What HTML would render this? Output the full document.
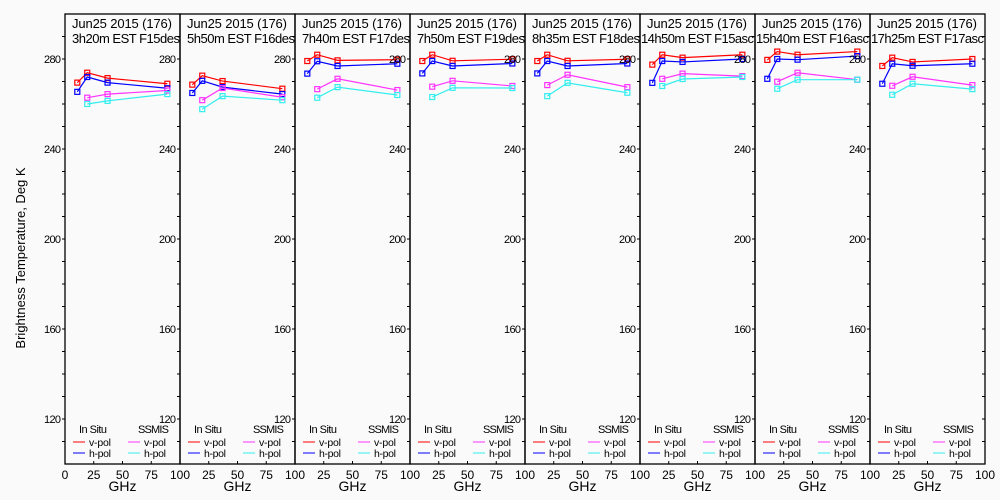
<!DOCTYPE html>
<html><head><meta charset="utf-8"><style>
body{margin:0;background:#fafafa;}
svg{display:block;font-family:"Liberation Sans",sans-serif;}
</style></head><body>
<svg id="c" width="1000" height="500">
<rect width="1000" height="500" fill="#fafafa"/>
<text x="25" y="258" font-size="13" text-anchor="middle" transform="rotate(-90 25 258)">Brightness Temperature, Deg K</text>
</svg>
<script>
const panelTitles=["3h20m EST F15des","5h50m EST F16des","7h40m EST F17des","7h50m EST F19des","8h35m EST F18des","14h50m EST F15asc","15h40m EST F16asc","17h25m EST F17asc"];
const inSituFreq=[10.7,19.35,37,89];
const ssmisFreq=[19.35,37,89];
const insituV=[[269.5,273.9,271.5,269],[268.6,272.6,270.2,266.8],[279.1,281.9,279.4,279.7],[279.1,281.9,279.2,279.9],[279.1,281.9,279.2,279.9],[277.5,281.9,280.6,281.9],[279.6,283.3,281.9,283.3],[276.9,280.6,278.7,280]];
const insituH=[[265.4,272,269.5,267],[264.9,270.3,267.5,264.4],[273.5,279,276.9,277.9],[273.6,279.1,276.9,278],[273.6,279.1,276.9,278],[269.4,279.1,278.7,280],[271.2,280,279.7,281.3],[269,277.9,277,277.9]];
const ssmisV=[[262.8,264.4,266],[261.7,267.1,263],[266.6,271.2,266.2],[267.7,270.3,268],[268.4,273,267.5],[271.2,273.5,272.4],[269.9,273.9,270.8],[268.1,272.1,268.4]];
const ssmisH=[[260,261.4,264.4],[257.7,263.5,261.7],[262.8,267.5,264],[263.1,267.2,267.1],[263.5,269.4,265],[268,271.1,272],[266.8,270.8,270.8],[264.1,269,266.6]];
const yLabels=[120,160,200,240,280];
const xLabels=[0,25,50,75,100];
const NS="http://www.w3.org/2000/svg";
const svg=document.getElementById('c');
const X0=65,PW=115,YT=14,YB=464;
function sx(p,v){return X0+p*PW+v/100*PW;}
function sy(v){return YB-(v-100)/200*(YB-YT);}
function mk(tag,attrs,parent){const e=document.createElementNS(NS,tag);for(const k in attrs)e.setAttribute(k,attrs[k]);(parent||svg).appendChild(e);return e;}
const colors={iv:"#ff0000",ih:"#0000ff",sv:"#ff33ff",sh:"#33eeee"};
for(let p=0;p<8;p++){
  const g=mk('g',{});
  
  
  const L=X0+p*PW;
  const fr=mk('rect',{x:L,y:YT,width:PW,height:YB-YT,fill:"none",stroke:"#000","stroke-width":1.3},g);
  
  
  for(let v=110;v<=290;v+=10){mk('line',{x1:L-3,x2:L,y1:sy(v),y2:sy(v),stroke:"#000"},g);}
  if(p==7){for(let v=110;v<=290;v+=10){mk('line',{x1:L+PW-3,x2:L+PW,y1:sy(v),y2:sy(v),stroke:"#000"},g);}}
  yLabels.forEach(v=>{const t=mk('text',{x:L-4,y:sy(v)+4,"font-size":11,"text-anchor":"end",textLength:17},g);t.textContent=v;
    
    });
  xLabels.forEach((v,i)=>{mk('line',{x1:sx(p,v),x2:sx(p,v),y1:YB,y2:YB-3,stroke:"#000"},g);
    if(p>0&&i==0)return;
    const t=mk('text',{x:sx(p,v),y:479,"font-size":12,"text-anchor":"middle"},g);t.textContent=v;
    
    });
  const gx=mk('text',{x:L+PW/2,y:491,"font-size":14,"text-anchor":"middle"},g);gx.textContent="GHz";
  
  
  const t1=mk('text',{x:L+7,y:28,"font-size":13,textLength:100},g);t1.textContent="Jun25 2015 (176)";
  
  
  const t2=mk('text',{x:L+(p>=5?1:7),y:43,"font-size":13,textLength:(p>=5?113:108)},g);t2.textContent=panelTitles[p];
  
  
  const series=[[inSituFreq,insituV[p],colors.iv,'insitu-vpol'],[inSituFreq,insituH[p],colors.ih,'insitu-hpol'],[ssmisFreq,ssmisV[p],colors.sv,'ssmis-vpol'],[ssmisFreq,ssmisH[p],colors.sh,'ssmis-hpol']];
  series.forEach(([f,vals,c,nm])=>{
    const pts=vals.map((v,i)=>sx(p,f[i])+","+sy(v)).join(" ");
    const pl=mk('polyline',{points:pts,fill:"none",stroke:c,"stroke-width":1.2},g);
    
    
    vals.forEach((v,i)=>{const r=mk('rect',{x:sx(p,f[i])-2.5,y:sy(v)-2.5,width:5,height:5,fill:"none",stroke:c,"stroke-width":1.2},g);
      
      });
  });
  const lg=mk('g',{},g);
  
  
  const a=mk('text',{x:L+14,y:433,"font-size":11,textLength:28},lg);a.textContent="In Situ";
  const b=mk('text',{x:L+73,y:433,"font-size":11,textLength:31},lg);b.textContent="SSMIS";
  [["v-pol",446,colors.iv,colors.sv],["h-pol",457,colors.ih,colors.sh]].forEach(([lab,y,c1,c2])=>{
    mk('line',{x1:L+8,x2:L+20,y1:y-4,y2:y-4,stroke:c1},lg);
    const t=mk('text',{x:L+24,y:y,"font-size":10.5,textLength:22},lg);t.textContent=lab;
    
    
    mk('line',{x1:L+63,x2:L+75,y1:y-4,y2:y-4,stroke:c2},lg);
    const t2=mk('text',{x:L+79,y:y,"font-size":10.5,textLength:22},lg);t2.textContent=lab;
    
    
  });
}
</script>
</body></html>
